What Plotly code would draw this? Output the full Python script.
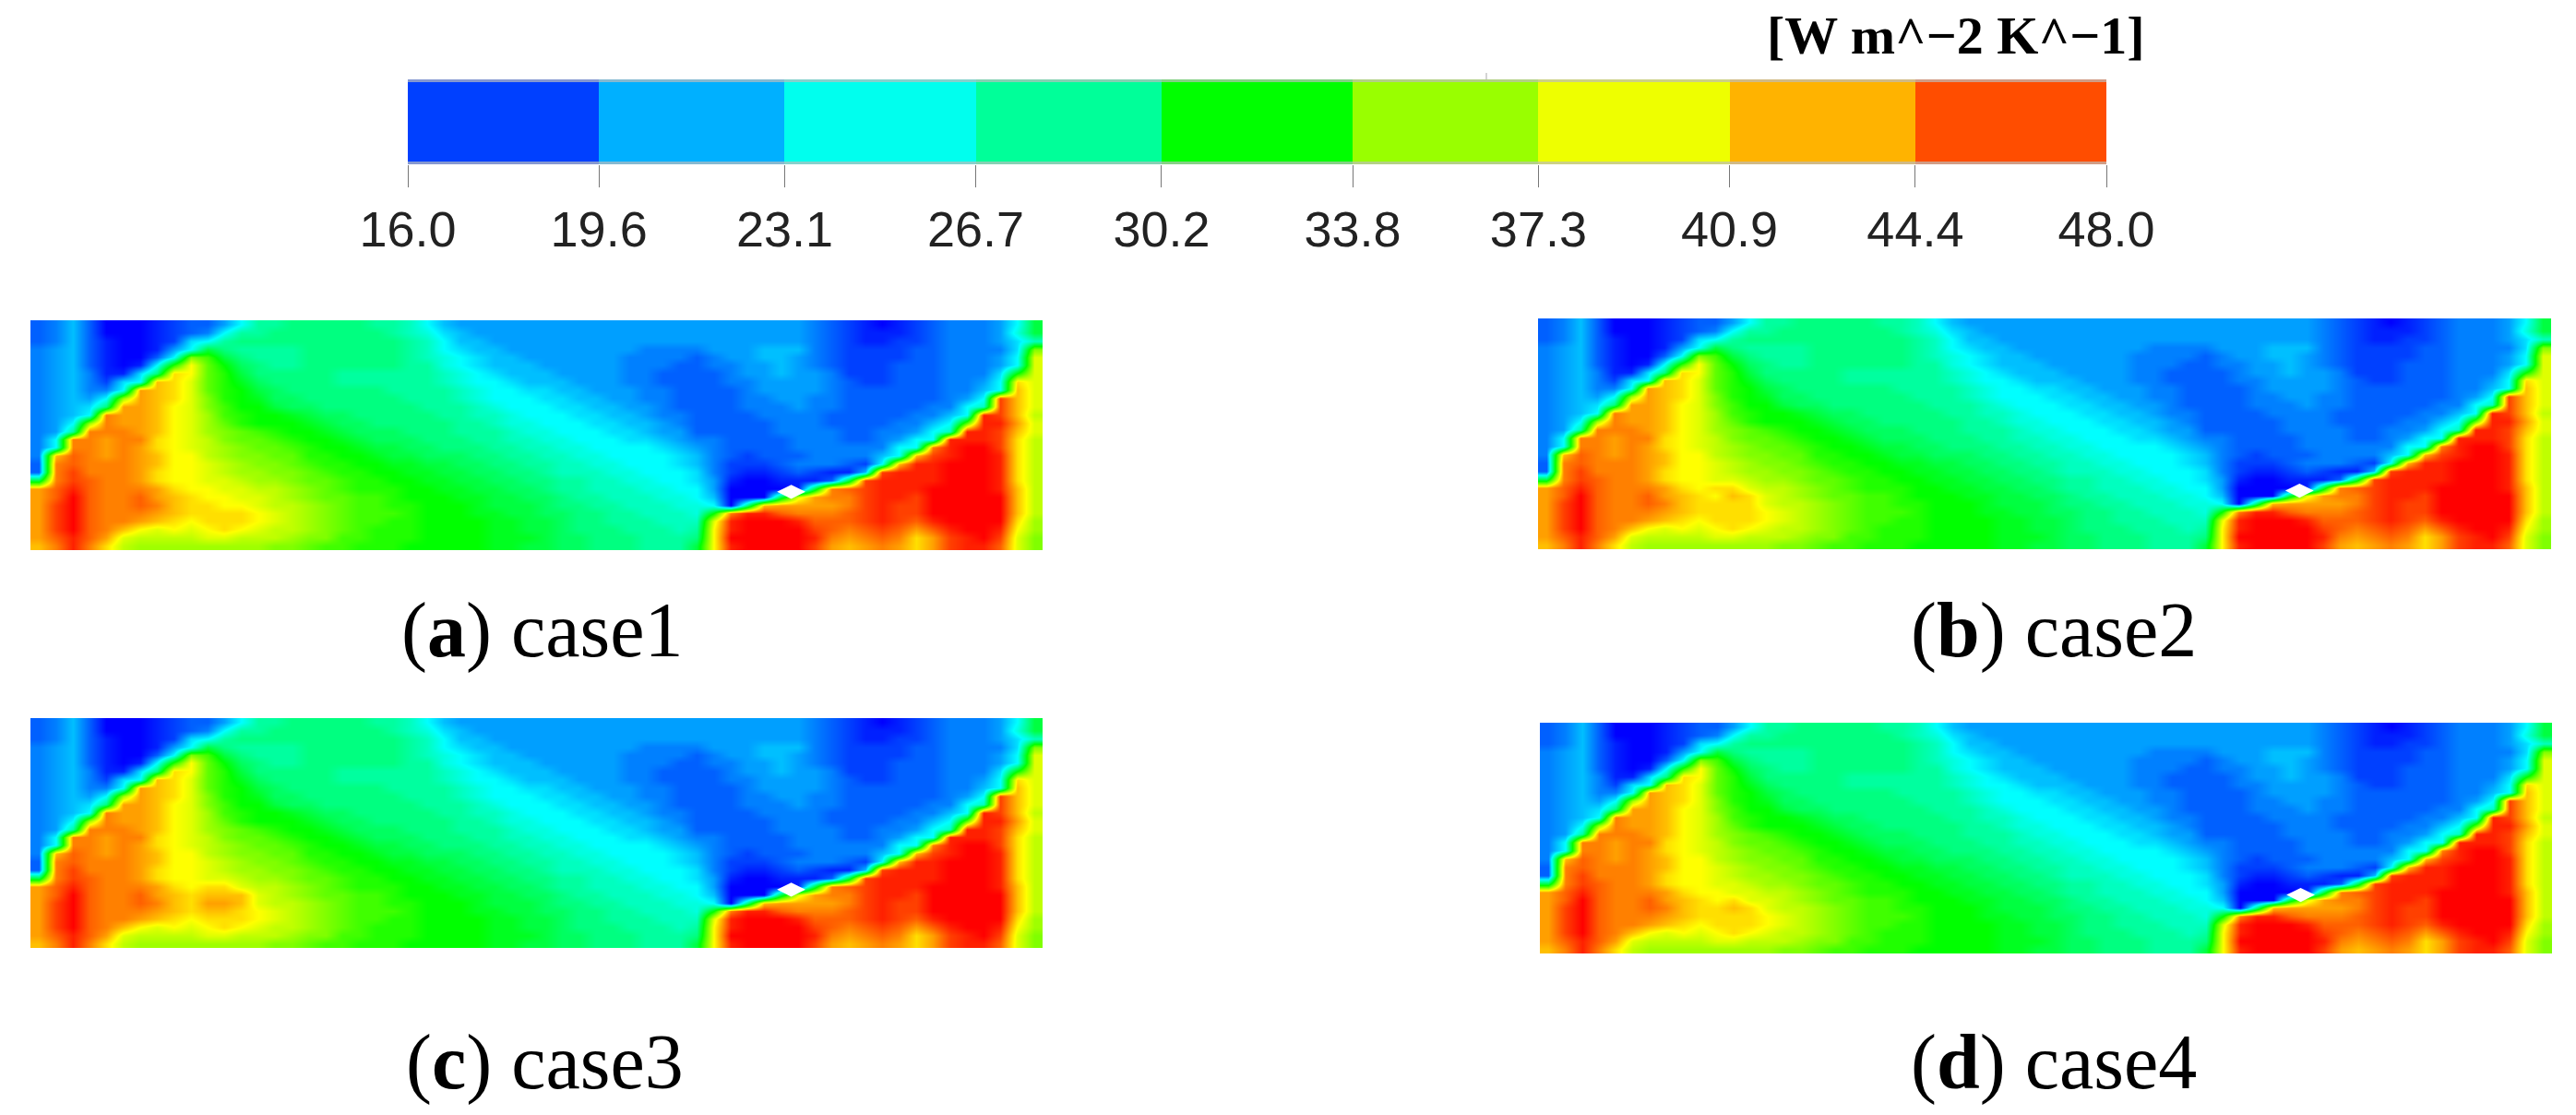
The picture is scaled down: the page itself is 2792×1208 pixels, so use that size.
import plotly.graph_objects as go

# ---- colour bar ----
bar_edges = [16.0, 19.6, 23.1, 26.7, 30.2, 33.8, 37.3, 40.9, 44.4, 48.0]
bar_labels = ["16.0", "19.6", "23.1", "26.7", "30.2", "33.8", "37.3", "40.9", "44.4", "48.0"]
bar_levels = [0, 1, 2, 3, 4, 5, 6, 7, 8]
bar_colors = ["#0040ff", "#00b0ff", "#00ffee", "#00ff99", "#00ff00",
              "#99ff00", "#eeff00", "#ffb300", "#ff4d00"]
unit_label = "<b>[W m^−2 K^−1]</b>"

# ---- heat-transfer coefficient (rows top to bottom, 60 columns) ----
case1 = [
 [19,20,22,19,16,16,16,17,18,19, 19,21,24,27,27,28,28,28,28,28, 27,27,26,24,22,21,21,21,21,21, 21,21,21,21,21,21,21,21,21,21, 21,21,21,21,21,21,20,19,18,17, 16,17,18,19,20,20,20,21,24,30],
 [19,20,22,19,16,16,16,17,18,19, 20,24,27,27,28,28,28,28,28,28, 28,27,26,25,23,22,21,21,21,21, 21,21,21,21,21,21,21,21,21,21, 21,21,21,21,21,21,20,19,18,17, 17,17,18,19,20,20,20,21,25,30],
 [19,20,22,19,17,16,16,17,18,23, 24,27,28,28,28,28,28,28,28,28, 28,28,27,26,24,22,22,21,21,21, 21,21,21,21,21,21,21,21,21,21, 21,21,21,21,21,21,20,19,18,17, 17,18,18,19,20,20,20,21,23,26],
 [20,21,22,19,17,16,16,17,21,24, 30,28,27,27,27,27,28,28,28,28, 28,28,27,26,24,23,22,22,21,21, 21,21,21,21,21,21,20,20,20,20, 21,21,21,22,22,22,20,19,18,18, 18,18,19,19,20,20,20,20,23,36],
 [20,21,22,19,17,16,16,19,24,36, 34,30,28,27,27,27,28,28,28,28, 28,28,27,26,25,24,23,22,22,21, 21,21,21,21,21,20,20,20,20,19, 20,21,21,22,22,21,20,19,18,18, 18,18,19,19,20,20,20,21,24,39],
 [20,21,22,19,17,16,17,24,33,40, 35,32,29,28,27,27,28,28,28,28, 28,28,27,27,25,24,23,22,22,22, 21,21,21,21,21,20,20,20,19,19, 20,20,21,21,22,21,20,19,18,18, 18,19,19,19,20,20,20,21,24,39],
 [20,21,22,20,17,17,23,28,41,40, 35,33,30,28,28,28,28,28,27,27, 27,27,27,27,26,25,24,23,22,22, 22,21,21,21,21,20,20,19,19,19, 19,20,21,21,22,21,21,20,18,18, 18,19,19,19,20,20,20,23,32,39],
 [20,21,22,20,18,23,24,42,41,39, 35,33,31,29,28,28,28,28,27,27, 27,27,27,27,26,25,24,24,23,22, 22,22,21,21,21,20,20,19,19,19, 19,20,20,21,21,21,21,20,19,18, 18,19,19,19,20,20,21,24,41,39],
 [20,21,22,20,20,24,43,42,41,39, 35,33,32,30,29,28,28,28,28,28, 28,27,27,27,27,26,25,24,24,23, 23,22,22,21,21,21,20,20,19,19, 19,19,20,21,21,21,21,20,19,19, 19,19,19,19,20,20,22,24,42,39],
 [20,21,22,21,24,37,43,42,41,39, 36,33,32,31,29,29,28,28,28,28, 28,28,27,27,27,26,25,24,24,24, 23,23,22,22,21,21,20,20,19,19, 19,19,20,20,21,21,20,20,19,19, 19,19,19,19,20,21,24,46,42,39],
 [20,21,22,23,28,43,43,42,40,39, 36,34,32,32,30,29,29,28,28,28, 28,28,28,27,27,27,26,25,24,24, 24,23,23,22,22,21,21,20,19,19, 19,19,20,20,20,21,20,20,19,19, 19,19,19,20,20,24,26,46,42,39],
 [20,21,22,24,44,43,43,42,40,39, 37,34,33,32,32,31,30,29,29,28, 28,28,28,28,27,27,26,26,25,24, 24,24,23,23,22,22,21,20,20,19, 19,19,19,20,20,20,20,19,19,19, 19,19,20,20,22,24,47,46,42,38],
 [20,21,24,37,44,43,43,42,40,39, 37,35,33,32,32,32,31,30,29,29, 28,28,28,28,28,27,27,26,25,25, 24,24,24,23,23,22,22,21,20,19, 19,19,19,19,20,20,20,19,19,19, 19,20,20,22,24,35,47,47,43,39],
 [20,21,27,44,44,44,43,42,40,39, 37,36,35,34,33,32,32,31,30,29, 29,29,28,28,28,27,27,27,26,25, 25,24,24,24,23,23,22,21,21,19, 19,19,19,19,20,20,20,20,19,19, 20,20,21,24,26,47,47,46,42,39],
 [20,24,44,44,43,44,44,41,40,39, 38,36,35,35,34,33,32,32,31,30, 29,29,29,28,28,28,27,27,26,26, 25,25,24,24,24,23,23,22,21,20, 20,19,19,19,19,20,20,20,19,19, 20,21,24,24,47,47,47,46,41,38],
 [20,24,44,44,43,44,43,41,40,39, 38,37,36,35,35,34,33,32,32,31, 30,30,29,29,28,28,28,27,27,26, 26,25,25,24,24,24,24,23,22,21, 20,19,19,19,19,20,20,20,20,20, 20,24,24,44,47,48,48,46,41,38],
 [20,42,45,44,43,44,43,42,40,40, 38,37,36,36,35,35,33,33,32,32, 31,30,30,29,29,29,28,28,27,27, 26,26,25,25,24,24,24,24,23,22, 20,19,18,19,19,19,20,20,20,20, 22,24,42,46,47,48,48,47,41,38],
 [19,44,45,44,44,44,43,42,40,40, 39,38,37,36,36,35,34,33,33,32, 32,31,31,30,30,29,29,28,28,27, 27,26,26,25,25,24,24,24,23,22, 20,18,18,18,19,20,20,20,19,18, 24,42,47,47,48,48,48,47,41,38],
 [19,44,46,44,44,44,43,41,40,40, 39,38,37,37,36,36,35,34,33,33, 32,32,31,31,30,30,29,29,28,28, 27,26,26,26,25,25,24,24,24,23, 20,18,17,17,18,19,18,17,17,22, 46,47,47,47,48,48,48,47,41,38],
 [30,44,46,45,44,44,43,41,40,40, 39,39,38,37,37,36,35,35,34,33, 33,32,32,31,31,30,30,29,29,28, 28,27,27,26,26,25,25,24,24,23, 21,17,16,16,17,17,17,19,30,46, 47,47,47,47,48,48,48,47,41,38],
 [43,45,47,45,44,44,44,43,41,40, 40,39,39,38,38,37,36,35,34,33, 33,33,32,32,31,31,30,30,29,29, 28,27,27,26,26,26,25,25,24,24, 21,16,16,16,16,17,30,44,45,46, 47,47,47,48,48,48,48,47,42,38],
 [43,45,48,45,44,44,45,43,42,41, 40,40,39,39,38,37,36,35,35,34, 34,33,32,32,32,31,31,30,30,29, 29,28,27,27,26,26,26,25,25,24, 22,16,16,16,30,39,43,44,44,46, 47,47,46,48,48,48,48,48,42,38],
 [43,46,48,45,44,44,45,44,42,41, 41,40,40,39,38,38,37,36,35,34, 34,33,33,32,32,32,31,30,30,30, 29,28,28,27,27,26,26,26,25,25, 24,16,28,42,43,43,43,43,44,46, 47,46,46,48,48,48,48,48,42,38],
 [43,46,48,45,44,44,44,43,42,41, 41,41,41,40,39,38,37,36,35,34, 34,34,33,32,32,32,31,31,30,30, 29,29,28,28,27,27,26,26,26,25, 32,44,47,47,45,44,44,44,45,46, 47,46,46,48,48,48,48,48,42,38],
 [43,46,48,45,44,44,43,42,41,40, 41,41,41,40,39,38,37,36,35,34, 34,33,33,32,32,32,32,31,31,30, 30,29,28,28,27,27,27,26,26,26, 39,47,48,48,48,47,45,45,45,46, 47,46,45,47,48,48,48,48,41,37],
 [43,46,48,45,44,42,40,39,40,39, 40,41,40,39,38,38,37,36,35,34, 33,33,33,32,32,32,32,31,31,30, 30,29,28,28,28,27,27,27,26,27, 40,47,48,48,48,48,46,45,44,45, 46,45,43,45,47,48,48,47,40,37],
 [43,45,47,45,43,39,38,38,38,38, 39,39,38,38,38,37,36,36,34,34, 33,33,33,32,32,32,32,31,31,31, 30,29,29,28,28,28,27,27,27,28, 40,48,48,48,48,48,47,44,43,44, 45,44,41,43,46,47,48,46,39,36],
 [42,44,47,44,41,38,37,37,37,37, 37,37,37,37,36,36,35,34,34,33, 33,33,32,32,32,32,32,31,31,30, 30,29,29,28,28,28,27,27,27,30, 40,47,48,48,48,48,46,43,42,43, 44,43,41,43,46,47,47,45,39,36],
]

# hand-read differences of the other cases (row, column, value)
case2_edits = [(21, 11, 42), (21, 12, 41), (22, 11, 41), (22, 12, 41), (20, 10, 41), (20, 11, 41)]
case3_edits = [(21, 10, 42), (21, 11, 42), (21, 12, 42), (22, 10, 43), (22, 11, 43), (22, 12, 42),
               (23, 10, 42), (23, 11, 42), (23, 12, 41), (20, 10, 41), (20, 11, 41)]
case4_edits = [(21, 11, 41), (22, 11, 42), (22, 12, 41)]

# white gap near the trailing edge (column, row)
gap_column = [44.6]
gap_row = [20.4]

# ---- panels: position on the page in pixels ----
W, H = 2792, 1208
panels = [
    ("x2", "y2", (33, 1130, 347, 596), case1, []),
    ("x3", "y3", (1667, 2765, 345, 595), case1, case2_edits),
    ("x4", "y4", (33, 1130, 778, 1027), case1, case3_edits),
    ("x5", "y5", (1669, 2766, 783, 1033), case1, case4_edits),
]
captions = [
    ("(<b>a</b>) case1", 582, 708),
    ("(<b>b</b>) case2", 2220, 708),
    ("(<b>c</b>) case3", 584, 1176),
    ("(<b>d</b>) case4", 2220, 1176),
]

jet = [[0, "#0000ff"], [0.25, "#00ffff"], [0.5, "#00ff00"], [0.75, "#ffff00"], [1, "#ff0000"]]
stepped = []
for i, c in enumerate(bar_colors):
    stepped += [[i / len(bar_colors), c], [(i + 1) / len(bar_colors), c]]

fig = go.Figure()
fig.add_trace(go.Heatmap(x=bar_edges, y=[0, 1], z=[bar_levels], colorscale=stepped, zmin=-0.5, zmax=8.5,
                         showscale=False, xaxis="x", yaxis="y", hoverinfo="skip"))
layout = dict(
    width=W, height=H, margin=dict(l=0, r=0, t=0, b=0, autoexpand=False),
    paper_bgcolor="white", plot_bgcolor="white", showlegend=False,
    xaxis=dict(domain=[442 / W, 2283 / W], range=[16, 48], anchor="y", tickmode="array",
               tickvals=bar_edges, ticktext=bar_labels, ticks="outside", ticklen=24, tickwidth=1,
               tickcolor="#777777", showgrid=False, zeroline=False, showline=False, automargin=False,
               ticklabelstandoff=-1,
               tickfont=dict(family="Liberation Sans", size=54, color="#222222")),
    yaxis=dict(domain=[1 - 178 / H, 1 - 86 / H], range=[0, 1], anchor="x", showticklabels=False,
               ticks="", showgrid=False, zeroline=False),
)
for xn, yn, (l, r, t, b), base, edits in panels:
    grid = [row[:] for row in base]
    for rw, cl, v in edits:
        grid[rw][cl] = v
    fig.add_trace(go.Heatmap(z=grid, colorscale=jet, zmin=16, zmax=48, zsmooth="best", showscale=False,
                             xaxis=xn, yaxis=yn, hoverinfo="skip"))
    fig.add_trace(go.Scatter(x=gap_column, y=gap_row, mode="markers", xaxis=xn, yaxis=yn, hoverinfo="skip",
                             marker=dict(symbol="diamond-wide", size=22, color="white")))
    ax = dict(showticklabels=False, ticks="", showgrid=False, zeroline=False, showline=False)
    layout[xn.replace("x", "xaxis")] = dict(domain=[l / W, r / W], range=[-0.5, 59.5], anchor=yn, **ax)
    layout[yn.replace("y", "yaxis")] = dict(domain=[1 - b / H, 1 - t / H], range=[27.5, -0.5], anchor=xn, **ax)
fig.update_layout(**layout)

# pale edges of the bar and the small stray tick above it
for y0, y1 in [(86, 89), (175, 178)]:
    fig.add_shape(type="rect", xref="paper", yref="paper", x0=442 / W, x1=2283 / W, y0=1 - y1 / H, y1=1 - y0 / H,
                  fillcolor="rgba(190,190,190,0.7)", line_width=0, layer="above")
fig.add_shape(type="line", xref="paper", yref="paper", x0=1611 / W, x1=1611 / W, y0=1 - 86 / H, y1=1 - 79 / H,
              line=dict(color="#aaaaaa", width=1))

ann = [dict(text=unit_label, x=2327 / W, y=1 - 73 / H, xref="paper", yref="paper", xanchor="right",
            yanchor="bottom", showarrow=False,
            font=dict(family="Liberation Serif", size=58, color="black"))]
for txt, cx, base in captions:
    ann.append(dict(text=txt, x=(cx + 6) / W, y=1 - base / H, xref="paper", yref="paper", xanchor="center",
                    yanchor="bottom", yshift=-24, showarrow=False,
                    font=dict(family="Liberation Serif", size=84, color="black")))
fig.update_layout(annotations=ann)
fig.write_html("out.html", post_script="document.body.style.margin='0';",
               config={"displayModeBar": False})
